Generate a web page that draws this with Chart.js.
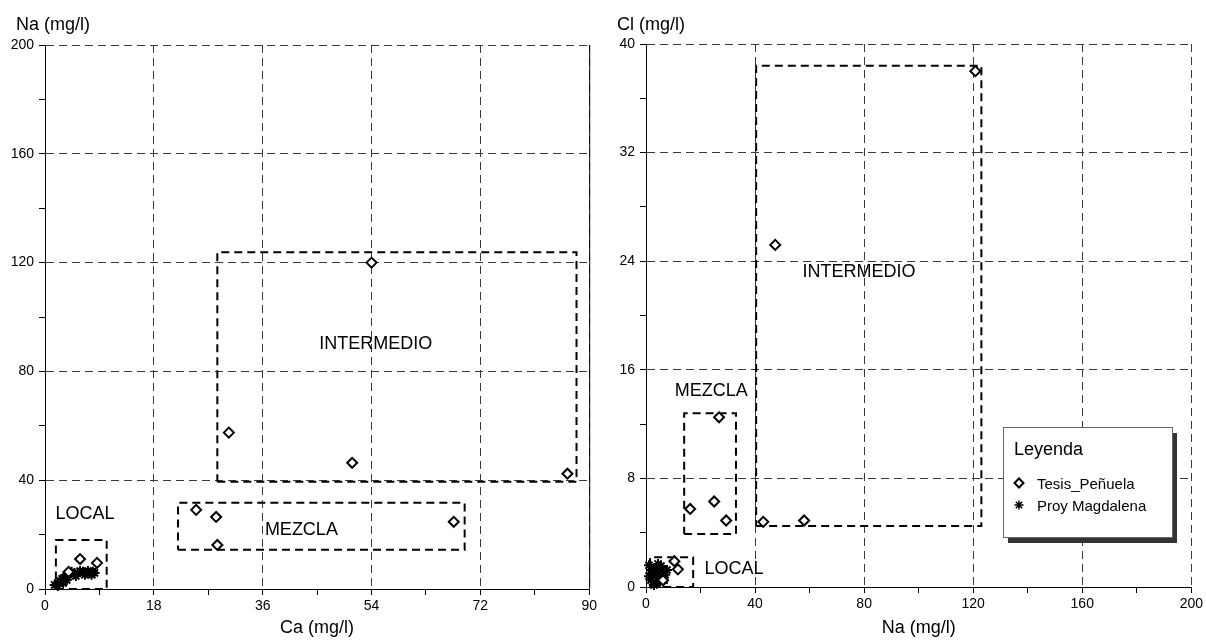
<!DOCTYPE html>
<html>
<head>
<meta charset="utf-8">
<script src="https://cdn.jsdelivr.net/npm/chart.js@4.4.1/dist/chart.umd.min.js"></script>
<style>
    html, body { margin: 0; padding: 0; background: #fff; }
    #chart-izq { position: absolute; left: 0; top: 0; }
    #chart-der { position: absolute; left: 600px; top: 0; }
</style>
</head>
<body>
<canvas id="chart-izq" width="600" height="640"></canvas>
<canvas id="chart-der" width="606" height="640"></canvas>
<script>
// ── DATOS ─────────────────────────────────────────────────────
// Grafica izquierda: Ca vs Na
const tesisCa = [54, 30.4, 50.8, 86.4, 25.0, 28.3, 28.5, 67.6, 5.8, 8.6, 3.9];
const tesisNa = [120, 57.5, 46.4, 42.4, 29.1, 26.5, 16.2, 24.7, 11, 9.6, 6.3];
const magdCa = [1.6, 2.1, 2.5, 2.8, 3.1, 3.5, 3.8, 4.1, 4.4, 2.1, 3.0, 3.6, 4.9, 5.4, 5.8, 6.3, 6.7, 7.1, 7.4, 7.9, 8.2, 5.1, 6.6, 7.7];
const magdNa = [1.5, 2.2, 2.9, 3.7, 4.0, 4.8, 5.2, 5.9, 6.3, 1.1, 2.2, 3.3, 5.5, 5.9, 6.6, 6.3, 5.9, 6.6, 5.9, 6.3, 5.9, 4.8, 5.2, 5.2];

const zonas = ['LOCAL', 'MEZCLA', 'INTERMEDIO'];
const cajaIzqX = [[1.8, 10.2], [22, 69.4], [28.5, 87.9]];
const cajaIzqY = [[0, 18], [14.4, 31.7], [39.4, 123.8]];
const etiqIzqX = [6.6, 42.4, 54.7];
const etiqIzqY = [27.6, 21.7, 89.9];

// Grafica derecha: Na vs Cl
const tesisNa2 = [120.8, 47.4, 43, 58, 26.8, 25, 16.2, 29.4, 10.4, 11.7, 6.2];
const tesisCl = [38, 25.2, 4.8, 4.9, 12.5, 6.3, 5.75, 4.9, 1.9, 1.3, 0.5];
const magdNa2 = [1.1, 1.8, 2.6, 3.3, 4.0, 4.8, 5.5, 6.2, 7.0, 1.8, 3.7, 5.1, 6.6, 7.7, 1.1, 4.4, 2.9];
const magdCl = [1.6, 1.25, 0.9, 1.4, 1.1, 0.66, 1.55, 1.2, 0.9, 0.5, 0.3, 0.37, 0.5, 1.25, 0.8, 1.7, 0.15];

const cajaDerX = [[1.5, 17.3], [14, 33], [40.4, 123]];
const cajaDerY = [[0, 2.2], [3.9, 12.8], [4.5, 38.4]];
const etiqDerX = [32.3, 23.9, 78.1];
const etiqDerY = [1.36, 14.4, 23.2];

const series = ['Tesis_Peñuela', 'Proy Magdalena'];

// ── CONFIG GLOBAL ─────────────────────────────────────────────
const FUENTE = "'Liberation Sans', Arial, sans-serif";
Chart.defaults.font.family = FUENTE;
Chart.defaults.color = '#000';
Chart.defaults.animation = false;
Chart.defaults.plugins.legend.display = false;
Chart.defaults.plugins.tooltip.enabled = false;

function puntos(xs, ys) {
    return xs.map((x, i) => ({ x, y: ys[i] }));
}

function caja(rx, ry) {
    return [
        { x: rx[0], y: ry[0] }, { x: rx[1], y: ry[0] },
        { x: rx[1], y: ry[1] }, { x: rx[0], y: ry[1] },
        { x: rx[0], y: ry[0] },
    ];
}

function esMayor(v, cada) {
    const r = Math.abs(v / cada - Math.round(v / cada));
    return r < 1e-6;
}

function eje(min, max, paso, cada, grosor, esX, titulo) {
    return {
        type: 'linear', min, max,
        afterBuildTicks: s => {
            const t = [];
            for (let v = min; v <= max + 1e-9; v += paso) t.push({ value: +v.toFixed(4) });
            s.ticks = t;
        },
        afterFit: s => { if (esX) s.height = grosor; else s.width = grosor; },
        ticks: {
            font: { size: 14 },
            padding: esX ? 3 : 5,
            autoSkip: false,
            maxRotation: 0,
            callback: v => esMayor(v, cada) ? String(v) : '',
        },
        grid: {
            color: c => (c.tick && esMayor(c.tick.value, cada)) ? '#3a3a3a' : 'rgba(0,0,0,0)',
            lineWidth: 1,
            tickColor: '#000',
            tickLength: 6,
        },
        border: { color: '#000', width: 1, dash: [8, 5] },
        title: titulo
            ? { display: true, text: titulo, font: { size: 18 }, padding: { top: 0, bottom: 1 } }
            : { display: false },
    };
}

function datasets(px, py, sx, sy, cx, cy) {
    const ds = [
        {
            label: series[0], data: puntos(px, py),
            pointStyle: 'rectRot', pointRadius: 5, borderWidth: 2,
            borderColor: '#000', backgroundColor: '#fff', clip: false,
        },
        {
            label: series[1], data: puntos(sx, sy),
            pointStyle: 'star', pointRadius: 5, borderWidth: 2,
            borderColor: '#000', backgroundColor: '#000', clip: false,
        },
    ];
    cx.forEach((rx, i) => ds.push({
        label: zonas[i], data: caja(rx, cy[i]),
        showLine: true, pointRadius: 0, borderWidth: 2,
        borderColor: '#000', borderDash: [8, 5], fill: false, clip: false,
    }));
    return ds;
}

// ── PLUGINS ───────────────────────────────────────────────────
const textos = {
    id: 'textos',
    afterDatasetsDraw(chart, args, o) {
        const { ctx, scales: { x, y }, chartArea } = chart;
        ctx.save();
        ctx.fillStyle = '#000';
        ctx.font = '18px ' + FUENTE;
        ctx.textAlign = 'center';
        ctx.textBaseline = 'middle';
        zonas.forEach((z, i) => {
            ctx.fillText(z, x.getPixelForValue(o.ex[i]), y.getPixelForValue(o.ey[i]));
        });
        ctx.textAlign = 'left';
        ctx.textBaseline = 'alphabetic';
        ctx.fillText(o.tituloY, o.tituloX, 30);
        if (o.bordeDerecho) {
            ctx.strokeStyle = '#000';
            ctx.lineWidth = 1;
            ctx.beginPath();
            ctx.moveTo(chartArea.right + 0.5, chartArea.top);
            ctx.lineTo(chartArea.right + 0.5, chartArea.bottom);
            ctx.stroke();
        }
        ctx.restore();
    },
};

const leyenda = {
    id: 'leyenda',
    afterDraw(chart, args, o) {
        if (!o.mostrar) return;
        const ctx = chart.ctx;
        const bx = 403, by = 427, bw = 169, bh = 110;
        ctx.save();
        ctx.fillStyle = '#333';
        ctx.fillRect(bx + 5, by + 6, bw, bh);
        ctx.fillStyle = '#fff';
        ctx.fillRect(bx, by, bw, bh);
        ctx.strokeStyle = '#666';
        ctx.lineWidth = 1;
        ctx.strokeRect(bx + 0.5, by + 0.5, bw, bh);

        ctx.fillStyle = '#000';
        ctx.font = '18px ' + FUENTE;
        ctx.fillText('Leyenda', 414, 455);

        ctx.font = '15px ' + FUENTE;
        ctx.fillText(series[0], 437, 489);
        ctx.fillText(series[1], 437, 511);

        // diamante
        ctx.strokeStyle = '#000';
        ctx.lineWidth = 2;
        ctx.beginPath();
        ctx.moveTo(419 - 4.5, 483);
        ctx.lineTo(419, 483 - 4.5);
        ctx.lineTo(419 + 4.5, 483);
        ctx.lineTo(419, 483 + 4.5);
        ctx.closePath();
        ctx.stroke();

        // asterisco
        ctx.lineWidth = 1.5;
        ctx.beginPath();
        const r = 4.5, d = r * Math.SQRT1_2;
        ctx.moveTo(419 - r, 505); ctx.lineTo(419 + r, 505);
        ctx.moveTo(419, 505 - r); ctx.lineTo(419, 505 + r);
        ctx.moveTo(419 - d, 505 - d); ctx.lineTo(419 + d, 505 + d);
        ctx.moveTo(419 - d, 505 + d); ctx.lineTo(419 + d, 505 - d);
        ctx.stroke();
        ctx.restore();
    },
};

function crearGrafica(canvasId, ds, escalas, padding, opcTextos, conLeyenda) {
    const canvas = document.getElementById(canvasId);
    return new Chart(canvas.getContext('2d'), {
        type: 'scatter',
        data: { datasets: ds },
        options: {
            responsive: false,
            devicePixelRatio: 1,
            layout: { padding },
            scales: escalas,
            plugins: {
                textos: opcTextos,
                leyenda: { mostrar: conLeyenda },
            },
        },
        plugins: [textos, leyenda],
    });
}

// ── RENDER ────────────────────────────────────────────────────
crearGrafica('chart-izq',
    datasets(tesisCa, tesisNa, magdCa, magdNa, cajaIzqX, cajaIzqY),
    {
        x: eje(0, 90, 9, 18, 51, true, 'Ca (mg/l)'),
        y: eje(0, 200, 20, 40, 45, false, null),
    },
    { top: 45, right: 9, bottom: 0, left: 0 },
    { ex: etiqIzqX, ey: etiqIzqY, tituloY: 'Na (mg/l)', tituloX: 16, bordeDerecho: true },
    false
);

crearGrafica('chart-der',
    datasets(tesisNa2, tesisCl, magdNa2, magdCl, cajaDerX, cajaDerY),
    {
        x: eje(0, 200, 20, 40, 53, true, 'Na (mg/l)'),
        y: eje(0, 40, 4, 8, 46, false, null),
    },
    { top: 44, right: 14, bottom: 0, left: 0 },
    { ex: etiqDerX, ey: etiqDerY, tituloY: 'Cl (mg/l)', tituloX: 17, bordeDerecho: false },
    true
);
</script>
</body>
</html>
